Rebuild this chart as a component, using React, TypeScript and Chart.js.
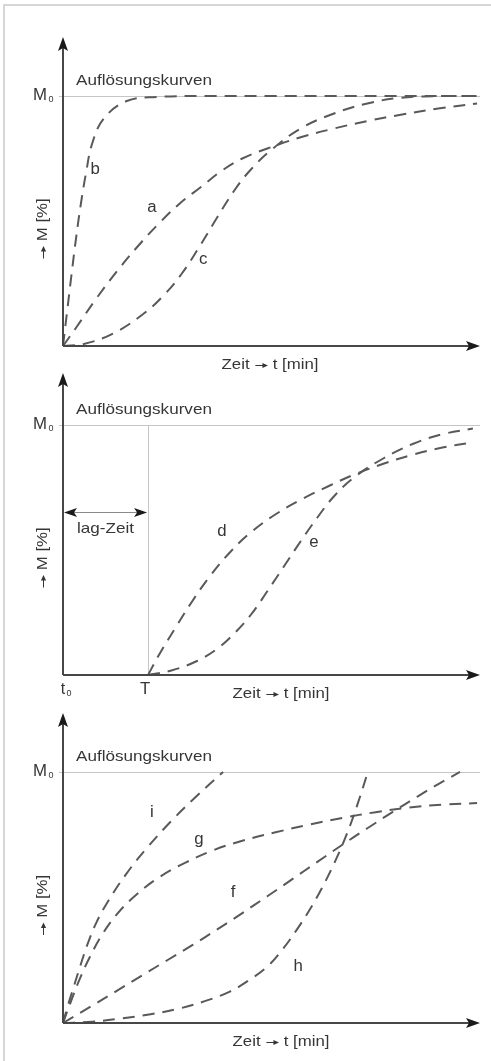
import React, { useEffect, useRef } from 'react';
import { Chart, registerables } from 'chart.js';
Chart.register(...registerables);

// ---------- data (time in relative units 0–100, M in % of M0) ----------
// Panel 1
const timeA = [0, 3, 8, 13, 18, 23, 28, 33, 38, 43, 49, 57, 65, 73, 81, 90, 99.3];
const massA = [0, 7, 19, 30, 40, 49, 57, 63.5, 70, 75, 79, 83.5, 87, 90, 92.5, 95, 97];
const timeB = [0, 1.0, 2.0, 3.2, 4.3, 5.5, 7.0, 9.8, 15.3, 22.5, 35, 50, 65, 80, 99.3];
const massB = [0, 14, 28, 44, 57, 69, 81, 91, 98, 99.6, 100, 100, 100, 100, 100];
const timeC = [0, 5, 12, 19, 24, 28.5, 33, 37, 41, 45, 50, 57, 65, 73, 81, 92, 99.3];
const massC = [0, 0.8, 5, 12.5, 20, 29, 40.5, 51.5, 62, 70.5, 78.5, 87, 93, 97, 99.3, 100, 100];

// Panel 2
const lagTime = 20.4;
const timeD = [20.4, 23, 27, 31, 35, 40, 45, 51, 57.6, 64, 70, 77, 84, 91, 98.3];
const massD = [0, 8, 19, 29.5, 39, 49, 57, 64.3, 70.6, 75.8, 80.3, 84.6, 88.2, 91, 93];
const timeE = [20.4, 26, 32, 37, 41, 45, 49, 53, 57, 61, 65, 70, 77, 84, 91, 98.3];
const massE = [0, 1.8, 5.5, 10.5, 16.5, 24, 33.5, 43.5, 53.5, 63, 71.5, 79.3, 86.8, 92.5, 96.3, 98.6];

// Panel 3
const timeF = [0, 6.6, 12.6, 19, 25, 31, 37, 43, 49, 55, 61, 67, 73, 79, 85, 90, 95.2];
const massF = [0, 6.5, 12.5, 19, 25, 31, 37.3, 43.8, 50.5, 57.3, 64.2, 71.0, 77.6, 84.0, 90.2, 95.2, 100];
const timeG = [0, 2, 4, 6.5, 9.5, 13, 17.5, 23, 29.5, 36, 43, 51, 59, 67, 75, 83, 91, 99.3];
const massG = [0, 9, 17.5, 26.5, 35.5, 43.5, 51, 58, 64, 68.8, 72.6, 76, 79, 81.7, 84, 85.8, 87, 87.6];
const timeH = [0, 7, 14, 21, 28, 34, 40, 45, 49, 52.5, 56, 59, 62, 65, 68, 70.5, 73.1];
const massH = [0, 0.5, 1.8, 3.5, 5.8, 8.7, 12.5, 17.5, 22.5, 29, 37, 44.7, 53.5, 63.5, 75, 86.5, 100];
const timeI = [0, 1, 2.5, 4, 5.8, 8, 11, 15, 20, 26, 32, 38.4];
const massI = [0, 6, 14, 22, 31, 40, 49, 59, 69.5, 80.5, 90.3, 100];

// texts
const titleText = 'Auflösungskurven';
const yAxisParts = ['→', ' M [%]'];
const xAxisParts = ['Zeit ', '→', ' t [min]'];
const lagText = 'lag-Zeit';

const FONT = '"Liberation Sans", Arial, Helvetica, sans-serif';
const TEXT_COLOR = '#363636';
const AXIS_COLOR = '#474747';
const PAGE_H = 1061;

type Lbl = { t: string; x: number; y: number };

function series(t: number[], m: number[]) {
  return {
    data: t.map((v, i) => ({ x: v, y: m[i] })),
    borderColor: '#595959',
    borderWidth: 2,
    borderDash: [12, 8],
    pointRadius: 0,
    fill: false,
    tension: 0.4,
    clip: false,
  };
}

function txt(ctx: CanvasRenderingContext2D, s: string, x: number, y: number, size: number, align: CanvasTextAlign = 'left', sx = 1.14) {
  ctx.save();
  ctx.font = `${size}px ${FONT}`;
  ctx.fillStyle = TEXT_COLOR;
  ctx.translate(x, y);
  ctx.scale(sx, 1);
  ctx.textAlign = align;
  ctx.textBaseline = 'middle';
  ctx.fillText(s, 0, 0);
  ctx.restore();
}

// text made of parts; a part equal to '→' is drawn as a thin arrow
function richTxt(ctx: CanvasRenderingContext2D, parts: string[], x: number, y: number, size: number, sx = 1.12) {
  ctx.save();
  ctx.translate(x, y);
  ctx.scale(sx, 1);
  ctx.fillStyle = TEXT_COLOR;
  ctx.strokeStyle = TEXT_COLOR;
  ctx.textBaseline = 'middle';
  ctx.textAlign = 'left';
  ctx.font = `${size}px ${FONT}`;
  const aw = size * 0.82;
  const widthOf = (p: string) => (p === '→' ? aw : ctx.measureText(p).width);
  let total = 0;
  for (const p of parts) total += widthOf(p);
  let cx = -total / 2;
  for (const p of parts) {
    if (p === '→') {
      const yy = 0.5;
      ctx.lineWidth = 1;
      ctx.beginPath();
      ctx.moveTo(cx + 1, yy);
      ctx.lineTo(cx + aw - 4, yy);
      ctx.stroke();
      ctx.beginPath();
      ctx.moveTo(cx + aw, yy);
      ctx.lineTo(cx + aw - 5, yy - 2.6);
      ctx.lineTo(cx + aw - 5, yy + 2.6);
      ctx.closePath();
      ctx.fill();
    } else {
      ctx.fillText(p, cx, 0);
    }
    cx += widthOf(p);
  }
  ctx.restore();
}

function arrowHead(ctx: CanvasRenderingContext2D, tipX: number, tipY: number, dx: number, dy: number, len = 14, half = 5) {
  const bx = tipX - dx * len, by = tipY - dy * len;
  const px = -dy, py = dx;
  ctx.beginPath();
  ctx.moveTo(tipX, tipY);
  ctx.lineTo(bx + px * half, by + py * half);
  ctx.lineTo(bx + dx * 3, by + dy * 3);
  ctx.lineTo(bx - px * half, by - py * half);
  ctx.closePath();
  ctx.fill();
}

type PanelCfg = {
  top: number;
  bottom: number;
  yMax: number;
  datasets: any[];
  labels: Lbl[];
  xLabelX: number;
  lag?: number;
  lagLevel?: number;
};

function makeDecor(cfg: PanelCfg) {
  return {
    id: 'decor',
    beforeDatasetsDraw(chart: any) {
      const { ctx, chartArea: a, scales } = chart;
      const x = scales.x, y = scales.y;
      const x0 = x.getPixelForValue(0);
      const y0 = y.getPixelForValue(0);
      const yM = y.getPixelForValue(100);
      ctx.save();
      ctx.strokeStyle = '#c6c6c6';
      ctx.lineWidth = 1;
      ctx.beginPath();
      ctx.moveTo(x0 - 4, Math.round(yM) + 0.5);
      ctx.lineTo(a.right, Math.round(yM) + 0.5);
      ctx.stroke();
      if (cfg.lag != null) {
        const xT = Math.round(x.getPixelForValue(cfg.lag)) + 0.5;
        ctx.beginPath();
        ctx.moveTo(xT, yM);
        ctx.lineTo(xT, y0);
        ctx.stroke();
      }
      ctx.restore();
    },
    afterDatasetsDraw(chart: any) {
      const { ctx, chartArea: a, scales } = chart;
      const x = scales.x, y = scales.y;
      const x0 = x.getPixelForValue(0);
      const y0 = y.getPixelForValue(0);
      const yM = y.getPixelForValue(100);
      ctx.save();
      ctx.strokeStyle = AXIS_COLOR;
      ctx.fillStyle = '#1a1a1a';
      ctx.lineWidth = 2;
      ctx.beginPath();
      ctx.moveTo(x0, y0);
      ctx.lineTo(x0, a.top + 8);
      ctx.moveTo(x0, y0);
      ctx.lineTo(a.right - 8, y0);
      ctx.stroke();
      arrowHead(ctx, x0, a.top, 0, -1);
      arrowHead(ctx, a.right, y0, 1, 0);

      if (cfg.lag != null && cfg.lagLevel != null) {
        const xT = x.getPixelForValue(cfg.lag);
        const yl = Math.round(y.getPixelForValue(cfg.lagLevel)) + 0.5;
        ctx.strokeStyle = '#8a8a8a';
        ctx.lineWidth = 1;
        ctx.beginPath();
        ctx.moveTo(x0 + 8, yl);
        ctx.lineTo(xT - 8, yl);
        ctx.stroke();
        arrowHead(ctx, x0 + 1, yl, -1, 0, 13, 4.5);
        arrowHead(ctx, xT - 1, yl, 1, 0, 13, 4.5);
        txt(ctx, lagText, x0 + 14, yl + 16, 15, 'left');
        txt(ctx, 't', x0, y0 + 15, 16, 'center', 1.0);
        txt(ctx, '0', x0 + 6, y0 + 19, 9, 'center', 1.0);
        txt(ctx, 'T', xT - 3, y0 + 15, 16, 'center', 1.05);
      }

      txt(ctx, titleText, x0 + 13, yM - 15, 15, 'left');
      txt(ctx, 'M', 33, yM, 16, 'left', 1.05);
      txt(ctx, '0', 51, yM + 4, 9, 'center', 1.0);
      richTxt(ctx, xAxisParts, cfg.xLabelX, y0 + 19, 15);
      ctx.save();
      ctx.translate(43, (y0 + yM) / 2 + 8);
      ctx.rotate(-Math.PI / 2);
      richTxt(ctx, yAxisParts, 0, 0, 15);
      ctx.restore();

      for (const l of cfg.labels) {
        txt(ctx, l.t, x.getPixelForValue(l.x), y.getPixelForValue(l.y), 16, 'center', 1.05);
      }
      ctx.restore();
    },
  };
}

const panels: PanelCfg[] = [
  {
    top: 37,
    bottom: 346,
    yMax: 123.6,
    datasets: [series(timeA, massA), series(timeB, massB), series(timeC, massC)],
    labels: [
      { t: 'a', x: 21.3, y: 55.2 },
      { t: 'b', x: 7.7, y: 70.4 },
      { t: 'c', x: 33.6, y: 34.4 },
    ],
    xLabelX: 270,
  },
  {
    top: 373,
    bottom: 675,
    yMax: 120.8,
    datasets: [series(timeD, massD), series(timeE, massE)],
    labels: [
      { t: 'd', x: 38.1, y: 57.2 },
      { t: 'e', x: 60.2, y: 52.8 },
    ],
    xLabelX: 281,
    lag: lagTime,
    lagLevel: 65.2,
  },
  {
    top: 713,
    bottom: 1023,
    yMax: 123.5,
    datasets: [series(timeF, massF), series(timeG, massG), series(timeH, massH), series(timeI, massI)],
    labels: [
      { t: 'i', x: 21.3, y: 83.7 },
      { t: 'g', x: 32.6, y: 72.9 },
      { t: 'f', x: 40.8, y: 51.8 },
      { t: 'h', x: 56.4, y: 22.3 },
    ],
    xLabelX: 281,
  },
];

function Panel({ cfg }: { cfg: PanelCfg }) {
  const ref = useRef<HTMLCanvasElement | null>(null);
  useEffect(() => {
    if (!ref.current) return;
    const chart = new Chart(ref.current, {
      type: 'line',
      data: { datasets: cfg.datasets as any },
      options: {
        animation: false,
        responsive: false,
        maintainAspectRatio: false,
        devicePixelRatio: 1,
        layout: { padding: { left: 63, right: 11, top: cfg.top, bottom: PAGE_H - cfg.bottom } },
        scales: {
          x: { type: 'linear', min: 0, max: 100, display: false },
          y: { type: 'linear', min: 0, max: cfg.yMax, display: false },
        },
        plugins: { legend: { display: false }, tooltip: { enabled: false } },
        events: [],
      },
      plugins: [makeDecor(cfg) as any],
    });
    return () => chart.destroy();
  }, [cfg]);
  return (
    <canvas
      ref={ref}
      width={491}
      height={PAGE_H}
      style={{ position: 'absolute', left: 0, top: 0, width: 491, height: PAGE_H }}
    />
  );
}

export default function App() {
  return (
    <div style={{ position: 'fixed', left: 0, top: 0, width: 491, height: PAGE_H, background: '#fff', overflow: 'hidden' }}>
      <div
        style={{
          position: 'absolute',
          left: 3,
          top: 4,
          right: -10,
          bottom: -10,
          borderLeft: '2px solid #d6d6d6',
          borderTop: '2px solid #d6d6d6',
        }}
      />
      {panels.map((p, i) => (
        <Panel key={i} cfg={p} />
      ))}
    </div>
  );
}
